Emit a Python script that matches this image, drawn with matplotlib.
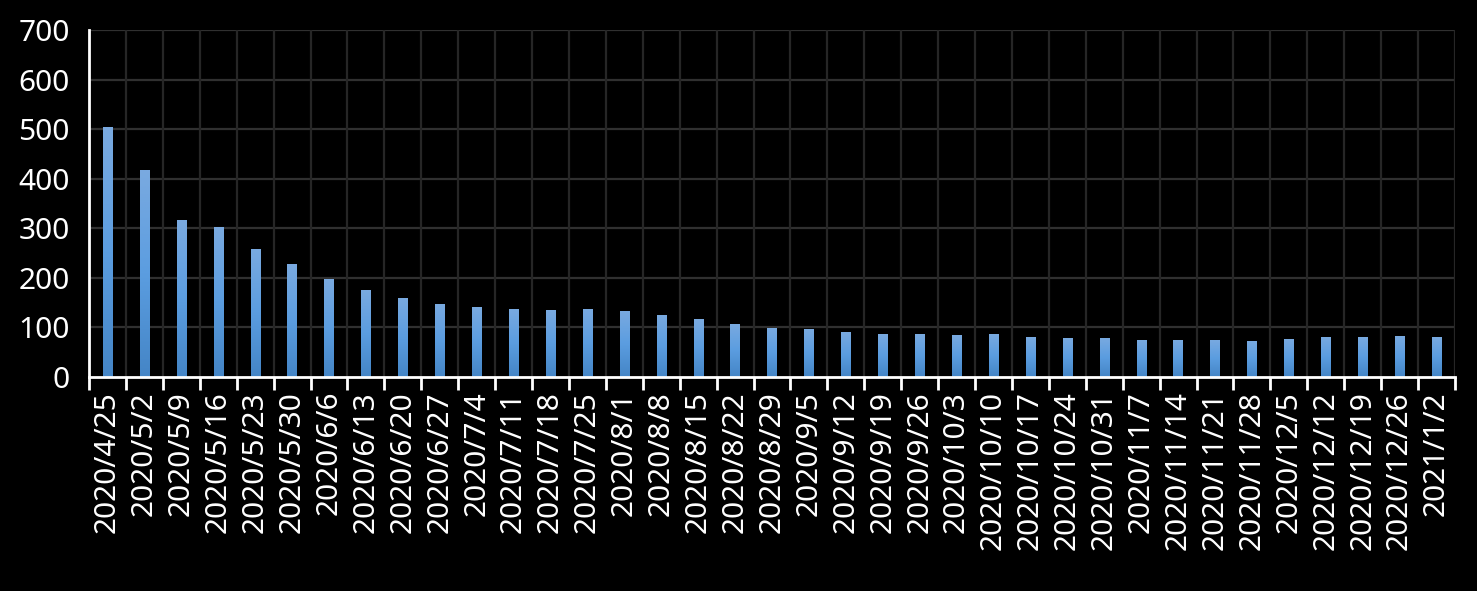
import numpy as np
import matplotlib.pyplot as plt
from matplotlib.colors import LinearSegmentedColormap

dates = ['2020/4/25', '2020/5/2', '2020/5/9', '2020/5/16', '2020/5/23', '2020/5/30',
         '2020/6/6', '2020/6/13', '2020/6/20', '2020/6/27', '2020/7/4', '2020/7/11',
         '2020/7/18', '2020/7/25', '2020/8/1', '2020/8/8', '2020/8/15', '2020/8/22',
         '2020/8/29', '2020/9/5', '2020/9/12', '2020/9/19', '2020/9/26', '2020/10/3',
         '2020/10/10', '2020/10/17', '2020/10/24', '2020/10/31', '2020/11/7',
         '2020/11/14', '2020/11/21', '2020/11/28', '2020/12/5', '2020/12/12',
         '2020/12/19', '2020/12/26', '2021/1/2']
values = [504, 417, 316, 303, 259, 227, 198, 176, 160, 148, 142, 138,
          136, 138, 134, 126, 117, 107, 99, 97, 91, 87, 87, 85,
          87, 81, 79, 79, 75, 75, 75, 73, 77, 81, 81, 83, 81]
yticks = [0, 100, 200, 300, 400, 500, 600, 700]

plt.rcParams['font.family'] = ['Noto Sans', 'DejaVu Sans']

fig = plt.figure(figsize=(14.77, 5.91), dpi=100, facecolor='black')
ax = fig.add_axes([89 / 1477, 214 / 591, 1366 / 1477, 347 / 591])
ax.set_facecolor('black')

x = np.arange(len(values))
bars = ax.bar(x, values, width=0.25, color='#5B9BD5', zorder=3)

# vertical gradient inside each bar, like the Excel fill
cmap = LinearSegmentedColormap.from_list('blue', ['#4485c6', '#5b9de0', '#7aaae0'])
grad = np.linspace(0, 1, 256).reshape(-1, 1)
for b in bars:
    x0, w, h = b.get_x(), b.get_width(), b.get_height()
    im = ax.imshow(grad, cmap=cmap, origin='lower', aspect='auto',
                   extent=[x0, x0 + w, 0, h], zorder=4)
    im.set_clip_path(b)

ax.set_xlim(-0.5, len(values) - 0.5)
ax.set_ylim(0, 700)
ax.set_yticks(yticks)
ax.set_yticklabels([str(v) for v in yticks])

# category boundaries carry the ticks and the vertical grid
bounds = np.arange(len(values) + 1) - 0.5
ax.set_xticks(bounds)
ax.set_xticklabels([])
ax.set_xticks(x, minor=True)
ax.set_xticklabels(dates, minor=True, rotation=90, va='top', ha='center')

for yv in yticks[1:]:
    ax.axhline(yv, color='#303030', lw=1.6, zorder=1)
for bx in bounds[1:]:
    ax.axvline(bx, color='#262626', lw=1.6, zorder=1)

ax.tick_params(axis='x', which='major', length=9, width=2, color='white', direction='out')
ax.tick_params(axis='x', which='minor', length=0, pad=10, labelsize=21.5, labelcolor='white')
ax.tick_params(axis='y', length=0, pad=14, labelsize=21.5, labelcolor='white')

for side in ['top', 'right']:
    ax.spines[side].set_visible(False)
for side in ['left', 'bottom']:
    ax.spines[side].set_color('white')
    ax.spines[side].set_linewidth(2)
    ax.spines[side].set_zorder(5)

fig.savefig('out.png', dpi=100, facecolor='black')
